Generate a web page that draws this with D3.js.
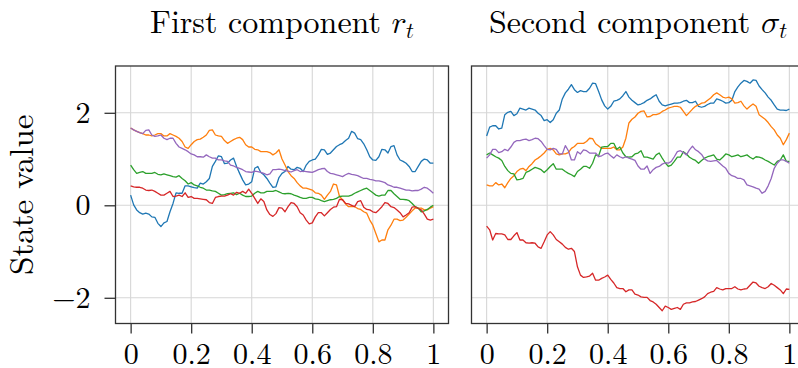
<!DOCTYPE html>
<html>
<head>
<meta charset="utf-8">
<script src="https://cdn.jsdelivr.net/npm/d3@7"></script>
<style>
  html, body { margin: 0; padding: 0; background: #fff; }
  svg { display: block; }
</style>
</head>
<body>
<svg id="chart" width="798" height="368"></svg>
<script>
// Sample times shared by every path
const timeGrid = [
  0.00, 0.01, 0.02, 0.03, 0.04, 0.05, 0.06, 0.07, 0.08, 0.09,
  0.10, 0.11, 0.12, 0.13, 0.14, 0.15, 0.16, 0.17, 0.18, 0.19,
  0.20, 0.21, 0.22, 0.23, 0.24, 0.25, 0.26, 0.27, 0.28, 0.29,
  0.30, 0.31, 0.32, 0.33, 0.34, 0.35, 0.36, 0.37, 0.38, 0.39,
  0.40, 0.41, 0.42, 0.43, 0.44, 0.45, 0.46, 0.47, 0.48, 0.49,
  0.50, 0.51, 0.52, 0.53, 0.54, 0.55, 0.56, 0.57, 0.58, 0.59,
  0.60, 0.61, 0.62, 0.63, 0.64, 0.65, 0.66, 0.67, 0.68, 0.69,
  0.70, 0.71, 0.72, 0.73, 0.74, 0.75, 0.76, 0.77, 0.78, 0.79,
  0.80, 0.81, 0.82, 0.83, 0.84, 0.85, 0.86, 0.87, 0.88, 0.89,
  0.90, 0.91, 0.92, 0.93, 0.94, 0.95, 0.96, 0.97, 0.98, 0.99, 1.00];

// First component r_t, five sample paths
const rPath1 = [
  0.22, 0.01, -0.10, -0.16, -0.19, -0.17, -0.19, -0.25, -0.26, -0.39,
  -0.46, -0.38, -0.35, -0.14, 0.04, 0.27, 0.26, 0.26, 0.42, 0.42,
  0.40, 0.38, 0.37, 0.48, 0.46, 0.51, 0.58, 0.84, 0.95, 1.07,
  1.05, 0.90, 0.91, 0.98, 1.02, 0.84, 0.69, 0.55, 0.44, 0.46,
  0.51, 0.80, 0.84, 0.71, 0.66, 0.58, 0.48, 0.39, 0.40, 0.60,
  0.69, 0.73, 0.84, 0.78, 0.77, 0.82, 0.80, 0.73, 0.87, 0.95,
  0.98, 1.00, 1.09, 1.21, 1.20, 1.10, 1.13, 1.20, 1.27, 1.31,
  1.34, 1.40, 1.45, 1.60, 1.56, 1.44, 1.42, 1.33, 1.20, 1.05,
  0.98, 0.97, 1.05, 1.21, 1.20, 1.13, 1.27, 1.29, 1.09, 0.98,
  0.95, 0.91, 0.84, 0.73, 0.73, 0.84, 0.95, 1.00, 0.98, 0.91, 0.91];
const rPath2 = [
  1.67, 1.63, 1.60, 1.57, 1.55, 1.52, 1.52, 1.50, 1.52, 1.55,
  1.55, 1.50, 1.50, 1.55, 1.52, 1.49, 1.45, 1.38, 1.26, 1.23,
  1.31, 1.38, 1.42, 1.43, 1.47, 1.52, 1.62, 1.63, 1.52, 1.50,
  1.49, 1.40, 1.34, 1.38, 1.42, 1.45, 1.47, 1.42, 1.31, 1.26,
  1.26, 1.21, 1.20, 1.16, 1.16, 1.16, 1.14, 1.09, 1.13, 1.20,
  1.00, 0.87, 0.73, 0.64, 0.58, 0.49, 0.42, 0.37, 0.37, 0.35,
  0.33, 0.27, 0.26, 0.22, 0.13, 0.22, 0.30, 0.46, 0.44, 0.19,
  0.12, 0.03, -0.03, -0.03, -0.03, -0.07, -0.09, -0.14, -0.17, -0.32,
  -0.43, -0.61, -0.79, -0.75, -0.75, -0.53, -0.43, -0.30, -0.30, -0.33,
  -0.32, -0.26, -0.19, -0.12, -0.06, -0.06, -0.06, -0.10, -0.10, -0.06, -0.03];
const rPath3 = [
  0.87, 0.77, 0.69, 0.71, 0.73, 0.69, 0.69, 0.69, 0.71, 0.67,
  0.66, 0.68, 0.66, 0.64, 0.62, 0.61, 0.64, 0.58, 0.53, 0.46,
  0.49, 0.44, 0.42, 0.39, 0.37, 0.33, 0.33, 0.31, 0.30, 0.26,
  0.22, 0.23, 0.25, 0.26, 0.27, 0.23, 0.26, 0.22, 0.19, 0.19,
  0.20, 0.26, 0.30, 0.27, 0.27, 0.30, 0.30, 0.30, 0.32, 0.29,
  0.26, 0.25, 0.26, 0.25, 0.22, 0.20, 0.17, 0.15, 0.15, 0.17,
  0.17, 0.14, 0.13, 0.10, 0.08, 0.10, 0.12, 0.13, 0.15, 0.19,
  0.20, 0.20, 0.20, 0.22, 0.26, 0.29, 0.32, 0.35, 0.37, 0.32,
  0.27, 0.22, 0.20, 0.22, 0.22, 0.32, 0.32, 0.25, 0.19, 0.13,
  0.13, 0.12, 0.10, 0.04, -0.03, -0.06, -0.14, -0.12, -0.09, -0.04, 0.00];
const rPath4 = [
  0.42, 0.40, 0.39, 0.39, 0.37, 0.33, 0.32, 0.33, 0.30, 0.26,
  0.22, 0.22, 0.26, 0.30, 0.19, 0.20, 0.22, 0.19, 0.27, 0.17,
  0.19, 0.15, 0.15, 0.14, 0.13, 0.12, 0.06, 0.04, 0.17, 0.19,
  0.20, 0.20, 0.22, 0.25, 0.22, 0.28, 0.26, 0.30, 0.26, 0.35,
  0.26, 0.15, 0.04, 0.14, 0.08, -0.10, -0.20, -0.24, -0.18, -0.05,
  -0.06, -0.14, -0.03, 0.06, 0.04, -0.03, -0.16, -0.21, -0.32, -0.40,
  -0.38, -0.25, -0.16, -0.16, -0.23, -0.16, -0.09, -0.04, -0.03, 0.13,
  0.12, 0.04, 0.03, 0.00, -0.03, 0.08, 0.10, -0.04, -0.09, -0.10,
  -0.14, -0.16, -0.10, -0.03, 0.06, 0.04, -0.03, -0.05, -0.10, -0.16,
  -0.25, -0.21, -0.16, -0.04, -0.03, -0.07, -0.10, -0.19, -0.30, -0.32, -0.30];
const rPath5 = [
  1.67, 1.63, 1.60, 1.57, 1.55, 1.62, 1.63, 1.52, 1.49, 1.50,
  1.52, 1.45, 1.42, 1.45, 1.45, 1.34, 1.26, 1.23, 1.20, 1.16,
  1.11, 1.09, 1.05, 1.05, 1.04, 1.09, 1.05, 1.02, 1.02, 0.98,
  0.98, 0.96, 0.95, 0.87, 0.85, 0.82, 0.80, 0.77, 0.73, 0.72,
  0.71, 0.74, 0.73, 0.71, 0.69, 0.66, 0.68, 0.77, 0.77, 0.78,
  0.77, 0.75, 0.74, 0.72, 0.75, 0.77, 0.73, 0.74, 0.73, 0.72,
  0.71, 0.74, 0.77, 0.79, 0.80, 0.73, 0.69, 0.68, 0.66, 0.64,
  0.62, 0.66, 0.69, 0.67, 0.66, 0.64, 0.61, 0.58, 0.58, 0.56,
  0.55, 0.53, 0.53, 0.51, 0.49, 0.44, 0.42, 0.39, 0.39, 0.37,
  0.35, 0.33, 0.33, 0.31, 0.32, 0.32, 0.35, 0.39, 0.37, 0.32, 0.26];

// Second component sigma_t, five sample paths
const sPath1 = [
  1.50, 1.69, 1.72, 1.72, 1.65, 1.67, 1.96, 2.01, 2.03, 1.94,
  1.98, 2.10, 2.08, 2.06, 2.10, 2.08, 2.06, 1.99, 1.94, 1.83,
  1.85, 1.79, 1.85, 1.99, 2.06, 2.30, 2.43, 2.51, 2.61, 2.50,
  2.44, 2.48, 2.46, 2.46, 2.53, 2.64, 2.63, 2.46, 2.28, 2.15,
  2.08, 2.14, 2.25, 2.27, 2.30, 2.37, 2.46, 2.34, 2.27, 2.22,
  2.17, 2.19, 2.22, 2.27, 2.30, 2.35, 2.39, 2.25, 2.17, 2.15,
  2.17, 2.19, 2.21, 2.21, 2.22, 2.25, 2.27, 2.22, 2.22, 2.25,
  2.14, 2.12, 2.14, 2.18, 2.21, 2.21, 2.30, 2.28, 2.25, 2.21,
  2.22, 2.27, 2.46, 2.56, 2.64, 2.70, 2.68, 2.64, 2.71, 2.70,
  2.58, 2.50, 2.43, 2.34, 2.27, 2.17, 2.08, 2.06, 2.06, 2.05, 2.08];
const sPath2 = [
  0.44, 0.42, 0.42, 0.49, 0.44, 0.46, 0.38, 0.49, 0.58, 0.64,
  0.73, 0.78, 0.80, 0.75, 0.84, 0.90, 0.98, 1.02, 1.07, 1.13,
  1.21, 1.23, 1.20, 1.11, 1.09, 1.11, 1.11, 1.14, 1.23, 1.27,
  1.34, 1.34, 1.34, 1.38, 1.45, 1.44, 1.33, 1.28, 1.23, 1.23,
  1.23, 1.23, 1.26, 1.20, 1.20, 1.26, 1.45, 1.78, 1.86, 1.91,
  1.99, 2.03, 2.04, 1.91, 1.92, 1.96, 1.96, 1.98, 2.03, 2.06,
  2.10, 2.12, 2.14, 2.14, 2.12, 2.03, 1.94, 2.01, 2.08, 2.14,
  2.17, 2.21, 2.22, 2.27, 2.32, 2.39, 2.43, 2.39, 2.34, 2.32,
  2.34, 2.30, 2.21, 2.22, 2.25, 2.15, 2.08, 2.14, 2.19, 2.14,
  1.96, 1.91, 1.86, 1.79, 1.70, 1.63, 1.52, 1.45, 1.31, 1.42, 1.56];
const sPath3 = [
  1.09, 1.13, 1.09, 1.05, 1.02, 0.97, 0.84, 0.75, 0.69, 0.68,
  0.55, 0.56, 0.58, 0.71, 0.74, 0.78, 0.82, 0.80, 0.77, 0.71,
  0.77, 0.84, 0.90, 0.78, 0.78, 0.78, 0.73, 0.69, 0.66, 0.62,
  0.73, 0.78, 0.84, 0.84, 0.80, 0.91, 1.09, 1.07, 1.26, 1.27,
  1.27, 1.34, 1.34, 1.21, 1.26, 1.13, 1.05, 1.04, 1.05, 1.11,
  1.13, 1.18, 1.04, 1.04, 1.02, 1.00, 1.09, 1.13, 1.02, 0.92,
  0.84, 0.87, 0.95, 1.04, 1.04, 1.16, 1.11, 1.04, 1.00, 0.97,
  0.91, 0.97, 1.02, 1.05, 1.07, 1.09, 1.00, 0.98, 1.04, 1.11,
  1.09, 1.05, 1.07, 1.09, 1.05, 1.07, 1.09, 1.04, 1.00, 1.05,
  1.04, 1.02, 0.98, 0.95, 0.91, 0.87, 0.95, 0.98, 1.09, 0.95, 0.95];
const sPath4 = [
  -0.45, -0.53, -0.75, -0.61, -0.62, -0.62, -0.64, -0.74, -0.74, -0.66,
  -0.59, -0.75, -0.75, -0.81, -0.82, -0.81, -0.82, -0.90, -0.93, -0.79,
  -0.64, -0.57, -0.64, -0.74, -0.79, -0.84, -0.91, -0.95, -0.93, -1.00,
  -1.33, -1.51, -1.56, -1.55, -1.53, -1.47, -1.62, -1.62, -1.58, -1.55,
  -1.51, -1.60, -1.68, -1.78, -1.80, -1.80, -1.87, -1.83, -1.83, -1.92,
  -1.94, -1.98, -1.99, -1.99, -2.06, -2.09, -2.14, -2.21, -2.28, -2.18,
  -2.21, -2.25, -2.23, -2.21, -2.25, -2.14, -2.11, -2.11, -2.09, -2.08,
  -2.05, -2.02, -1.98, -1.91, -1.88, -1.86, -1.78, -1.81, -1.83, -1.80,
  -1.80, -1.80, -1.76, -1.81, -1.83, -1.81, -1.80, -1.73, -1.66, -1.68,
  -1.75, -1.78, -1.80, -1.76, -1.69, -1.73, -1.78, -1.83, -1.91, -1.81, -1.82];
const sPath5 = [
  1.02, 1.09, 1.21, 1.21, 1.14, 1.16, 1.21, 1.18, 1.26, 1.36,
  1.40, 1.40, 1.42, 1.43, 1.40, 1.42, 1.45, 1.44, 1.38, 1.29,
  1.21, 1.20, 1.23, 1.21, 1.11, 1.11, 1.29, 1.18, 0.98, 0.98,
  1.16, 1.11, 1.20, 1.18, 1.13, 1.13, 1.13, 1.05, 1.07, 1.11,
  1.13, 1.07, 1.02, 1.09, 1.05, 1.02, 1.05, 1.02, 1.00, 0.97,
  0.85, 0.78, 0.78, 0.85, 0.69, 0.77, 0.82, 0.84, 0.89, 0.92,
  0.91, 0.95, 1.05, 1.16, 1.18, 1.14, 1.09, 1.20, 1.28, 1.20,
  1.16, 1.10, 1.00, 0.96, 0.95, 0.96, 0.97, 0.91, 0.85, 0.80,
  0.69, 0.64, 0.62, 0.58, 0.58, 0.55, 0.44, 0.42, 0.40, 0.37,
  0.35, 0.26, 0.30, 0.42, 0.58, 0.80, 0.91, 0.98, 0.98, 0.95, 0.91];

const xTicks = [0, 0.2, 0.4, 0.6, 0.8, 1];
const xTickLabels = ["0", "0.2", "0.4", "0.6", "0.8", "1"];
const yTicks = [-2, 0, 2];
const yTickLabels = ["\u22122", "0", "2"];
const pathColors = ["#1f77b4", "#ff7f0e", "#2ca02c", "#d62728", "#9467bd"];

const serif = '"Latin Modern Roman", "Liberation Serif", serif';
const mathFont = '"Latin Modern Math", "Latin Modern Roman", "DejaVu Serif", serif';

const panels = [
  { left: 115.5, titleText: "First component ", symbol: "\u{1D45F}", paths: [rPath1, rPath2, rPath3, rPath4, rPath5], showY: true },
  { left: 471.5, titleText: "Second component ", symbol: "\u{1D70E}", paths: [sPath1, sPath2, sPath3, sPath4, sPath5], showY: false }
];

const plotW = 333, plotTop = 66, plotBottom = 323.5;
const svg = d3.select("#chart");

const y = d3.scaleLinear().domain([-2.556, 3.012]).range([plotBottom, plotTop]);

panels.forEach((p, pi) => {
  const x = d3.scaleLinear().domain([-0.05, 1.05]).range([p.left, p.left + plotW]);
  const g = svg.append("g");

  // grid
  g.selectAll("line.vgrid").data(xTicks).join("line").attr("class", "vgrid")
    .attr("x1", d => x(d)).attr("x2", d => x(d))
    .attr("y1", plotTop).attr("y2", plotBottom)
    .attr("stroke", "#d6d6d6").attr("stroke-width", 1.1);
  g.selectAll("line.hgrid").data(yTicks).join("line").attr("class", "hgrid")
    .attr("x1", p.left).attr("x2", p.left + plotW)
    .attr("y1", d => y(d)).attr("y2", d => y(d))
    .attr("stroke", "#d6d6d6").attr("stroke-width", 1.1);

  // sample paths
  const clipId = "clip" + pi;
  svg.append("clipPath").attr("id", clipId).append("rect")
    .attr("x", p.left).attr("y", plotTop).attr("width", plotW).attr("height", plotBottom - plotTop);
  const line = d3.line().x((d, i) => x(timeGrid[i])).y(d => y(d));
  g.append("g").attr("clip-path", `url(#${clipId})`)
    .selectAll("path").data(p.paths).join("path")
    .attr("d", line)
    .attr("fill", "none")
    .attr("stroke", (d, i) => pathColors[i])
    .attr("stroke-width", 1.3)
    .attr("stroke-linejoin", "round");

  // frame
  g.append("rect")
    .attr("x", p.left).attr("y", plotTop).attr("width", plotW).attr("height", plotBottom - plotTop)
    .attr("fill", "none").attr("stroke", "#333").attr("stroke-width", 1.3);

  // x axis
  const xAxis = d3.axisBottom(x).tickValues(xTicks)
    .tickFormat((d, i) => xTickLabels[i]).tickSize(10);
  const xa = g.append("g").attr("transform", `translate(0,${plotBottom})`).call(xAxis);
  xa.select(".domain").remove();
  xa.selectAll(".tick line").attr("stroke", "#333").attr("stroke-width", 1.3);
  xa.selectAll(".tick text")
    .style("font-family", serif).style("font-size", "30px")
    .attr("fill", "#000").attr("y", 40.5).attr("dy", 0);

  if (p.showY) {
    const yAxis = d3.axisLeft(y).tickValues(yTicks)
      .tickFormat((d, i) => yTickLabels[i]).tickSize(11).tickPadding(14);
    const ya = g.append("g").attr("transform", `translate(${p.left},0)`).call(yAxis);
    ya.select(".domain").remove();
    ya.selectAll(".tick line").attr("stroke", "#333").attr("stroke-width", 1.3);
    ya.selectAll(".tick text")
      .style("font-family", serif).style("font-size", "30px")
      .attr("fill", "#000").attr("dy", "0.32em");
  }

  // title with math-italic symbol and subscript t
  const t = svg.append("text")
    .attr("x", p.left + plotW / 2).attr("y", 33)
    .attr("text-anchor", "middle")
    .style("font-family", serif).style("font-size", "32px").attr("fill", "#000");
  t.append("tspan").text(p.titleText);
  t.append("tspan").style("font-family", mathFont).text(p.symbol);
  t.append("tspan").style("font-family", mathFont).style("font-size", "22px").attr("dy", 5).text("\u{1D461}");
});

// y axis label
svg.append("text")
  .attr("transform", `translate(33,${(plotTop + plotBottom) / 2}) rotate(-90)`)
  .attr("text-anchor", "middle")
  .style("font-family", serif).style("font-size", "33px").attr("fill", "#000")
  .text("State value");
</script>
</body>
</html>
